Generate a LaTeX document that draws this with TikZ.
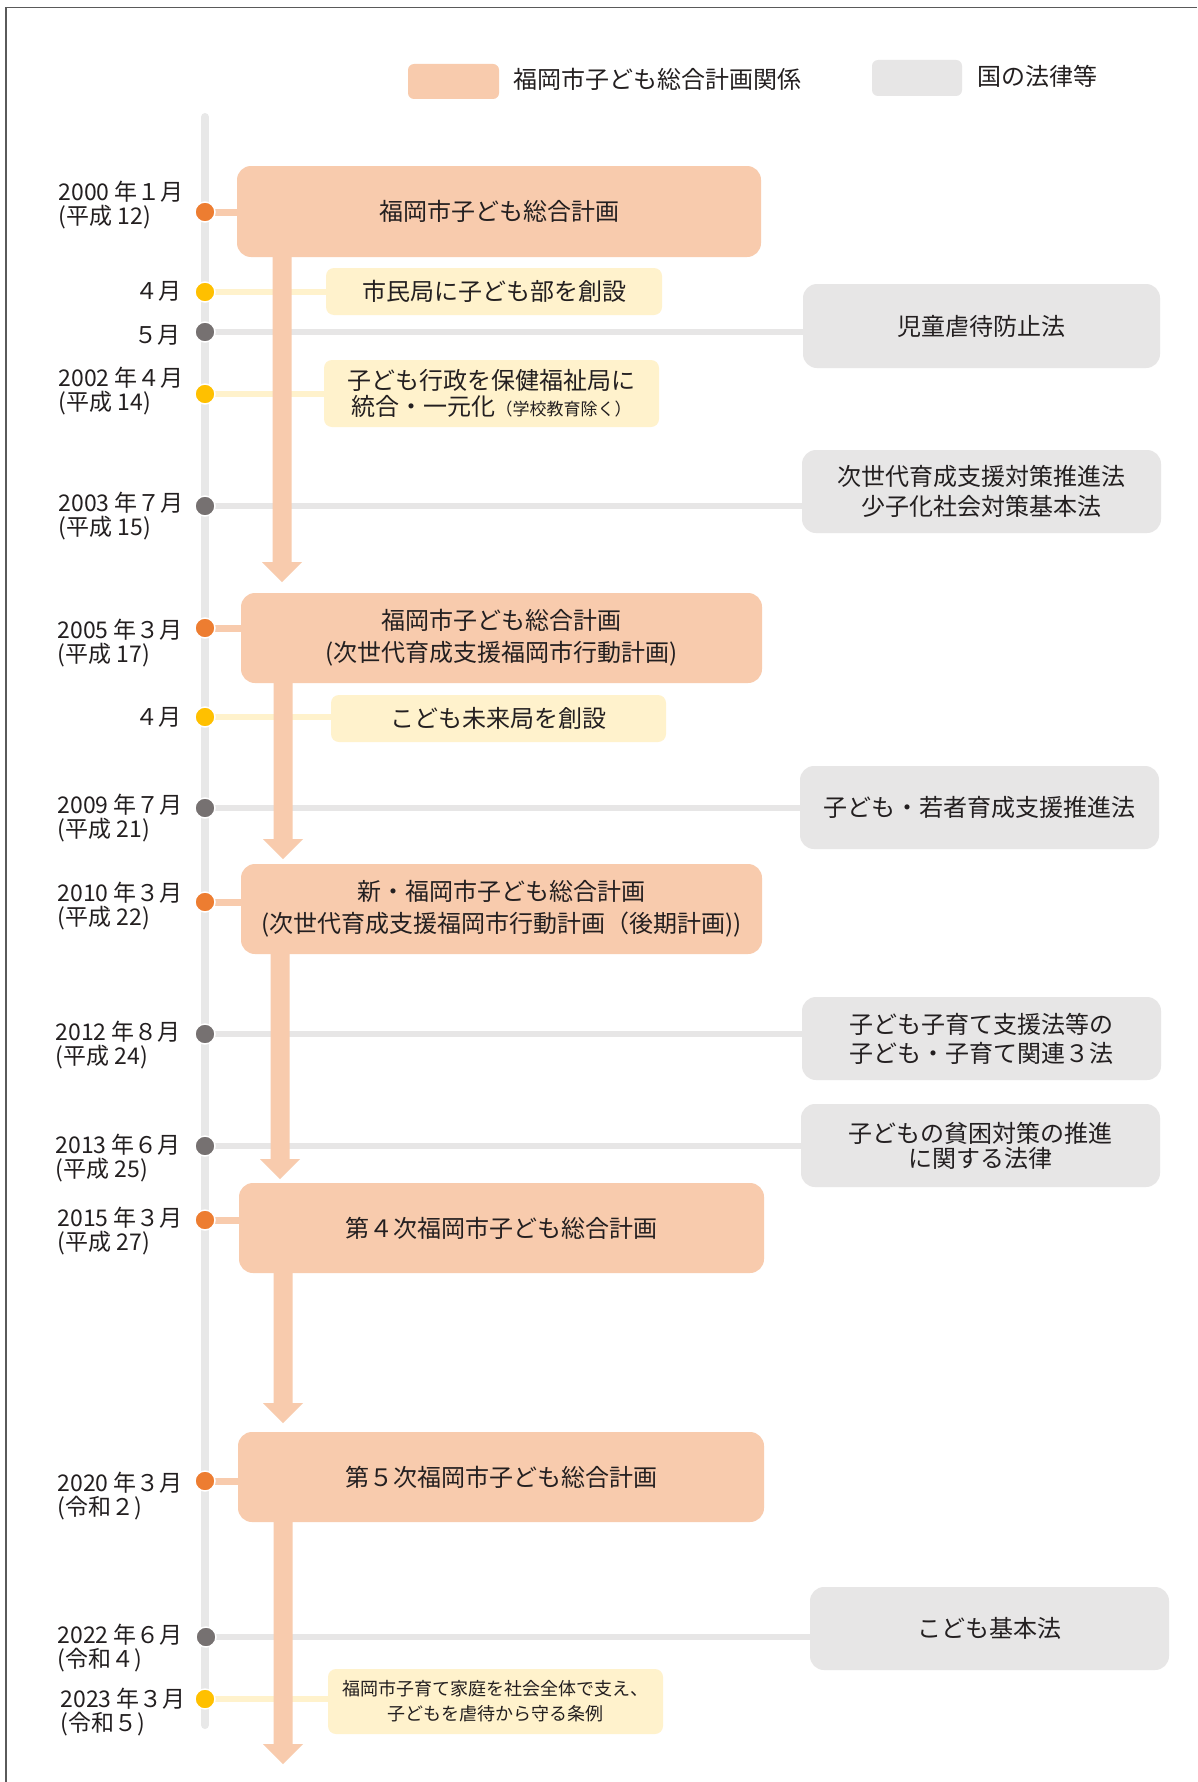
\documentclass[tikz,border=0pt]{standalone}
\usepackage{fontspec}
\setmainfont{Noto Sans CJK JP}
\usetikzlibrary{calc}
\definecolor{orfill}{HTML}{F8CBAD}
\definecolor{yefill}{HTML}{FFF2CC}
\definecolor{grfill}{HTML}{E7E6E6}
\definecolor{ordot}{HTML}{ED7D31}
\definecolor{yedot}{HTML}{FFC000}
\definecolor{grdot}{HTML}{767171}
\definecolor{tlgray}{HTML}{E8E8E8}
\definecolor{txt}{HTML}{231F20}
\definecolor{framec}{HTML}{5A5A5A}
\newcommand{\myfs}[2]{\fontsize{#1}{#2}\selectfont}
\newcommand{\bigarrow}[2]{%
  \fill[orfill] ([xshift=-9.5pt]#1) -- ([xshift=-9.5pt,yshift=20pt]#2) -- ([xshift=-20pt,yshift=20pt]#2) -- (#2) -- ([xshift=20pt,yshift=20pt]#2) -- ([xshift=9.5pt,yshift=20pt]#2) -- ([xshift=9.5pt]#1) -- cycle;}
\pgfdeclarelayer{bg}
\pgfdeclarelayer{mid}
\pgfsetlayers{bg,mid,main}
\begin{document}
\begin{tikzpicture}[x=1pt,y=-1pt,
  box/.style={inner sep=0pt, align=center, text=txt},
  obox/.style={box, fill=orfill, rounded corners=14pt, font=\myfs{24}{32}},
  ybox/.style={box, fill=yefill, rounded corners=8pt, font=\myfs{24}{26}},
  gbox/.style={box, fill=grfill, rounded corners=14pt, font=\myfs{24}{30}},
  dot/.style={circle, inner sep=0pt, minimum size=20pt, draw=white, line width=1.5pt},
  odot/.style={dot, fill=ordot},
  ydot/.style={dot, fill=yedot},
  gdot/.style={dot, fill=grdot},
  oline/.style={draw=orfill, line width=7pt},
  yline/.style={draw=yefill, line width=6pt},
  gline/.style={draw=grfill, line width=6pt},
  tl/.style={draw=tlgray, line width=8pt, line cap=round},
  lab/.style={anchor=east, align=left, inner sep=0pt, font=\myfs{23}{24}, text=txt},
  legtext/.style={anchor=west, inner sep=0pt, font=\myfs{24}{26}, text=txt},
  swatch/.style={inner sep=0pt, rounded corners=6pt}
]
\useasboundingbox (0,0) rectangle (1197,1782);
\begin{pgfonlayer}{bg}
  \fill[white] (0,0) rectangle (1197,1782);
\end{pgfonlayer}
\draw[framec, line width=1.5pt] (6,1782) -- (6,7.5) -- (1197,7.5);

% legend
\node[swatch, fill=orfill, minimum width=91pt, minimum height=35pt] (lego) at (453.5,81.5) {};
\node[legtext] (legot) at (513,79) {福岡市子ども総合計画関係};
\node[swatch, fill=grfill, minimum width=90pt, minimum height=36pt] (legg) at (917,78) {};
\node[legtext] (leggt) at (977,76) {国の法律等};

% timeline ends
\coordinate (tltop) at (205,117);
\coordinate (tlbot) at (205,1725);

% orange plan boxes
\node[obox, minimum width=524pt, minimum height=91pt] (b1) at (499,211.5) {福岡市子ども総合計画};
\node[obox, minimum width=521pt, minimum height=90pt] (b2) at (501.5,638) {福岡市子ども総合計画\\(次世代育成支援福岡市行動計画)};
\node[obox, minimum width=521pt, minimum height=90pt] (b3) at (501.5,909) {新・福岡市子ども総合計画\\(次世代育成支援福岡市行動計画（後期計画))};
\node[obox, minimum width=525pt, minimum height=90pt] (b4) at (501.5,1228) {第４次福岡市子ども総合計画};
\node[obox, minimum width=526pt, minimum height=90pt] (b5) at (501,1477) {第５次福岡市子ども総合計画};

% yellow city boxes
\node[ybox, minimum width=336pt, minimum height=47pt] (y1) at (494,291.5) {市民局に子ども部を創設};
\node[ybox, minimum width=335pt, minimum height=67pt] (y2) at (491.5,393.5) {子ども行政を保健福祉局に\\統合・一元化{\myfs{17}{20}（学校教育除く）}};
\node[ybox, minimum width=335pt, minimum height=47pt] (y3) at (498.5,718.5) {こども未来局を創設};
\node[ybox, minimum width=335pt, minimum height=65pt, font=\myfs{18}{25}] (y4) at (495.5,1701.5) {福岡市子育て家庭を社会全体で支え、\\子どもを虐待から守る条例};

% gray national law boxes
\node[gbox, minimum width=357pt, minimum height=84pt] (g1) at (981.5,326) {児童虐待防止法};
\node[gbox, minimum width=359pt, minimum height=83pt] (g2) at (981.5,491.5) {次世代育成支援対策推進法\\少子化社会対策基本法};
\node[gbox, minimum width=359pt, minimum height=83pt] (g3) at (979.5,807.5) {子ども・若者育成支援推進法};
\node[gbox, minimum width=359pt, minimum height=83pt, font=\myfs{24}{29}] (g4) at (981.5,1038.5) {子ども子育て支援法等の\\子ども・子育て関連３法};
\node[gbox, minimum width=359pt, minimum height=83pt, font=\myfs{24}{25}] (g5) at (980.5,1145.5) {子どもの貧困対策の推進\\に関する法律};
\node[gbox, minimum width=359pt, minimum height=83pt] (g6) at (989.5,1628.5) {こども基本法};

% dots
\node[odot] (d1) at (205,212) {};
\node[ydot] (d2) at (205,292) {};
\node[gdot] (d3) at (205,332) {};
\node[ydot] (d4) at (205,394) {};
\node[gdot] (d5) at (205,506) {};
\node[odot] (d6) at (205,628) {};
\node[ydot] (d7) at (205,717) {};
\node[gdot] (d8) at (205,808) {};
\node[odot] (d9) at (205,902) {};
\node[gdot] (d10) at (205,1034) {};
\node[gdot] (d11) at (205,1146) {};
\node[odot] (d12) at (205,1220) {};
\node[odot] (d13) at (205,1481) {};
\node[gdot] (d14) at (206,1637) {};
\node[ydot] (d15) at (205,1699) {};

% date labels
\node[lab] (l1) at (184,205) {2000 年１月\\(平成 12)};
\node[lab] (l2) at (182,291) {４月};
\node[lab] (l3) at (181,335) {５月};
\node[lab] (l4) at (184,391.5) {2002 年４月\\(平成 14)};
\node[lab] (l5) at (184,516.5) {2003 年７月\\(平成 15)};
\node[lab] (l6) at (183,643.5) {2005 年３月\\(平成 17)};
\node[lab] (l7) at (182,717) {４月};
\node[lab] (l8) at (183,818.5) {2009 年７月\\(平成 21)};
\node[lab] (l9) at (183,906.5) {2010 年３月\\(平成 22)};
\node[lab] (l10) at (181,1045.5) {2012 年８月\\(平成 24)};
\node[lab] (l11) at (181,1158) {2013 年６月\\(平成 25)};
\node[lab] (l12) at (183,1231.5) {2015 年３月\\(平成 27)};
\node[lab] (l13) at (183,1496) {2020 年３月\\(令和２)};
\node[lab] (l14) at (183,1648.5) {2022 年６月\\(令和４)};
\node[lab] (l15) at (186,1712.5) {2023 年３月\\(令和５)};

% arrow tips
\coordinate (t1) at (282,582);
\coordinate (t2) at (283,859);
\coordinate (t3) at (280,1179);
\coordinate (t4) at (283,1423);
\coordinate (t5) at (283,1764);
\coordinate (s1) at ([yshift=2pt]b1.south -| t1);
\coordinate (s2) at ([yshift=2pt]b2.south -| t2);
\coordinate (s3) at ([yshift=2pt]b3.south -| t3);
\coordinate (s4) at ([yshift=2pt]b4.south -| t4);
\coordinate (s5) at ([yshift=2pt]b5.south -| t5);

\begin{pgfonlayer}{bg}
  \draw[tl] (tltop) -- (tlbot);
  \draw[oline] (d1.center) -- (d1.center -| b1.west);
  \draw[yline] (d2.center) -- (d2.center -| y1.west);
  \draw[gline] (d3.center) -- (d3.center -| g1.west);
  \draw[yline] (d4.center) -- (d4.center -| y2.west);
  \draw[gline] (d5.center) -- (d5.center -| g2.west);
  \draw[oline] (d6.center) -- (d6.center -| b2.west);
  \draw[yline] (d7.center) -- (d7.center -| y3.west);
  \draw[gline] (d8.center) -- (d8.center -| g3.west);
  \draw[oline] (d9.center) -- (d9.center -| b3.west);
  \draw[gline] (d10.center) -- (d10.center -| g4.west);
  \draw[gline] (d11.center) -- (d11.center -| g5.west);
  \draw[oline] (d12.center) -- (d12.center -| b4.west);
  \draw[oline] (d13.center) -- (d13.center -| b5.west);
  \draw[gline] (d14.center) -- (d14.center -| g6.west);
  \draw[yline] (d15.center) -- (d15.center -| y4.west);
\end{pgfonlayer}

\begin{pgfonlayer}{mid}
  \bigarrow{s1}{t1}
  \bigarrow{s2}{t2}
  \bigarrow{s3}{t3}
  \bigarrow{s4}{t4}
  \bigarrow{s5}{t5}
\end{pgfonlayer}
\end{tikzpicture}
\end{document}
